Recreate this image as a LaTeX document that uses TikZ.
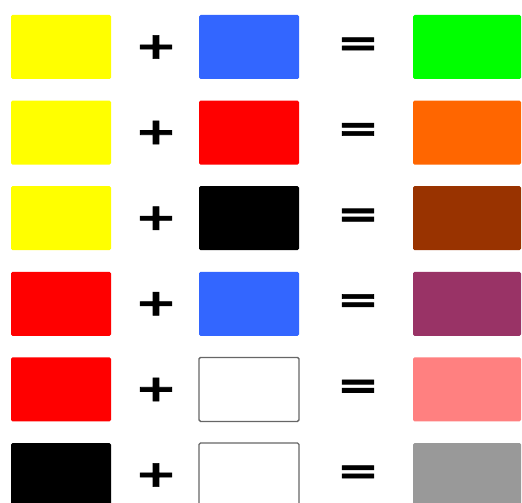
\documentclass[tikz,border=0pt]{standalone}
\usepackage{fontspec}
\newfontfamily\signfont[FakeBold=1.6]{DejaVu Sans Bold}
\definecolor{paintyellow}{HTML}{FFFF00}
\definecolor{paintblue}{HTML}{3366FF}
\definecolor{paintred}{HTML}{FF0000}
\definecolor{paintgreen}{HTML}{00FF00}
\definecolor{paintorange}{HTML}{FF6600}
\definecolor{paintbrown}{HTML}{993300}
\definecolor{paintpurple}{HTML}{993366}
\definecolor{paintpink}{HTML}{FF8080}
\definecolor{paintgray}{HTML}{999999}
\definecolor{paintedge}{HTML}{666666}
\begin{document}
\begin{tikzpicture}[x=1pt, y=-1pt,
    paint/.style={rectangle, minimum width=100pt, minimum height=64pt, rounded corners=1.5pt, inner sep=0pt, line width=1.3pt},
    sign/.style={inner sep=0pt, font=\signfont\fontsize{37}{37}\selectfont}]
    \useasboundingbox (0,0) rectangle (522,503);
    \clip (0,0) rectangle (522,503);
    % one row per mixture: first + second = result
    \foreach \first/\second/\result/\edge [count=\i] in {%
        paintyellow/paintblue/paintgreen/none,
        paintyellow/paintred/paintorange/none,
        paintyellow/black/paintbrown/none,
        paintred/paintblue/paintpurple/none,
        paintred/white/paintpink/paintedge,
        black/white/paintgray/paintedge}{%
        \pgfmathsetmacro{\rowy}{47+(\i-1)*85.6}
        \node[paint, fill=\first] (first\i) at (61,\rowy) {};
        \node[sign] (plus\i) at (156,\rowy) {\scalebox{1.35}[1]{+}};
        \node[paint, fill=\second, draw=\edge] (second\i) at (249,\rowy) {};
        \node[sign] (equals\i) at (358,\rowy-0.5) {\scalebox{1.35}[1]{=}};
        \node[paint, fill=\result, minimum width=108pt] (result\i) at (467,\rowy) {};
    }
\end{tikzpicture}
\end{document}
